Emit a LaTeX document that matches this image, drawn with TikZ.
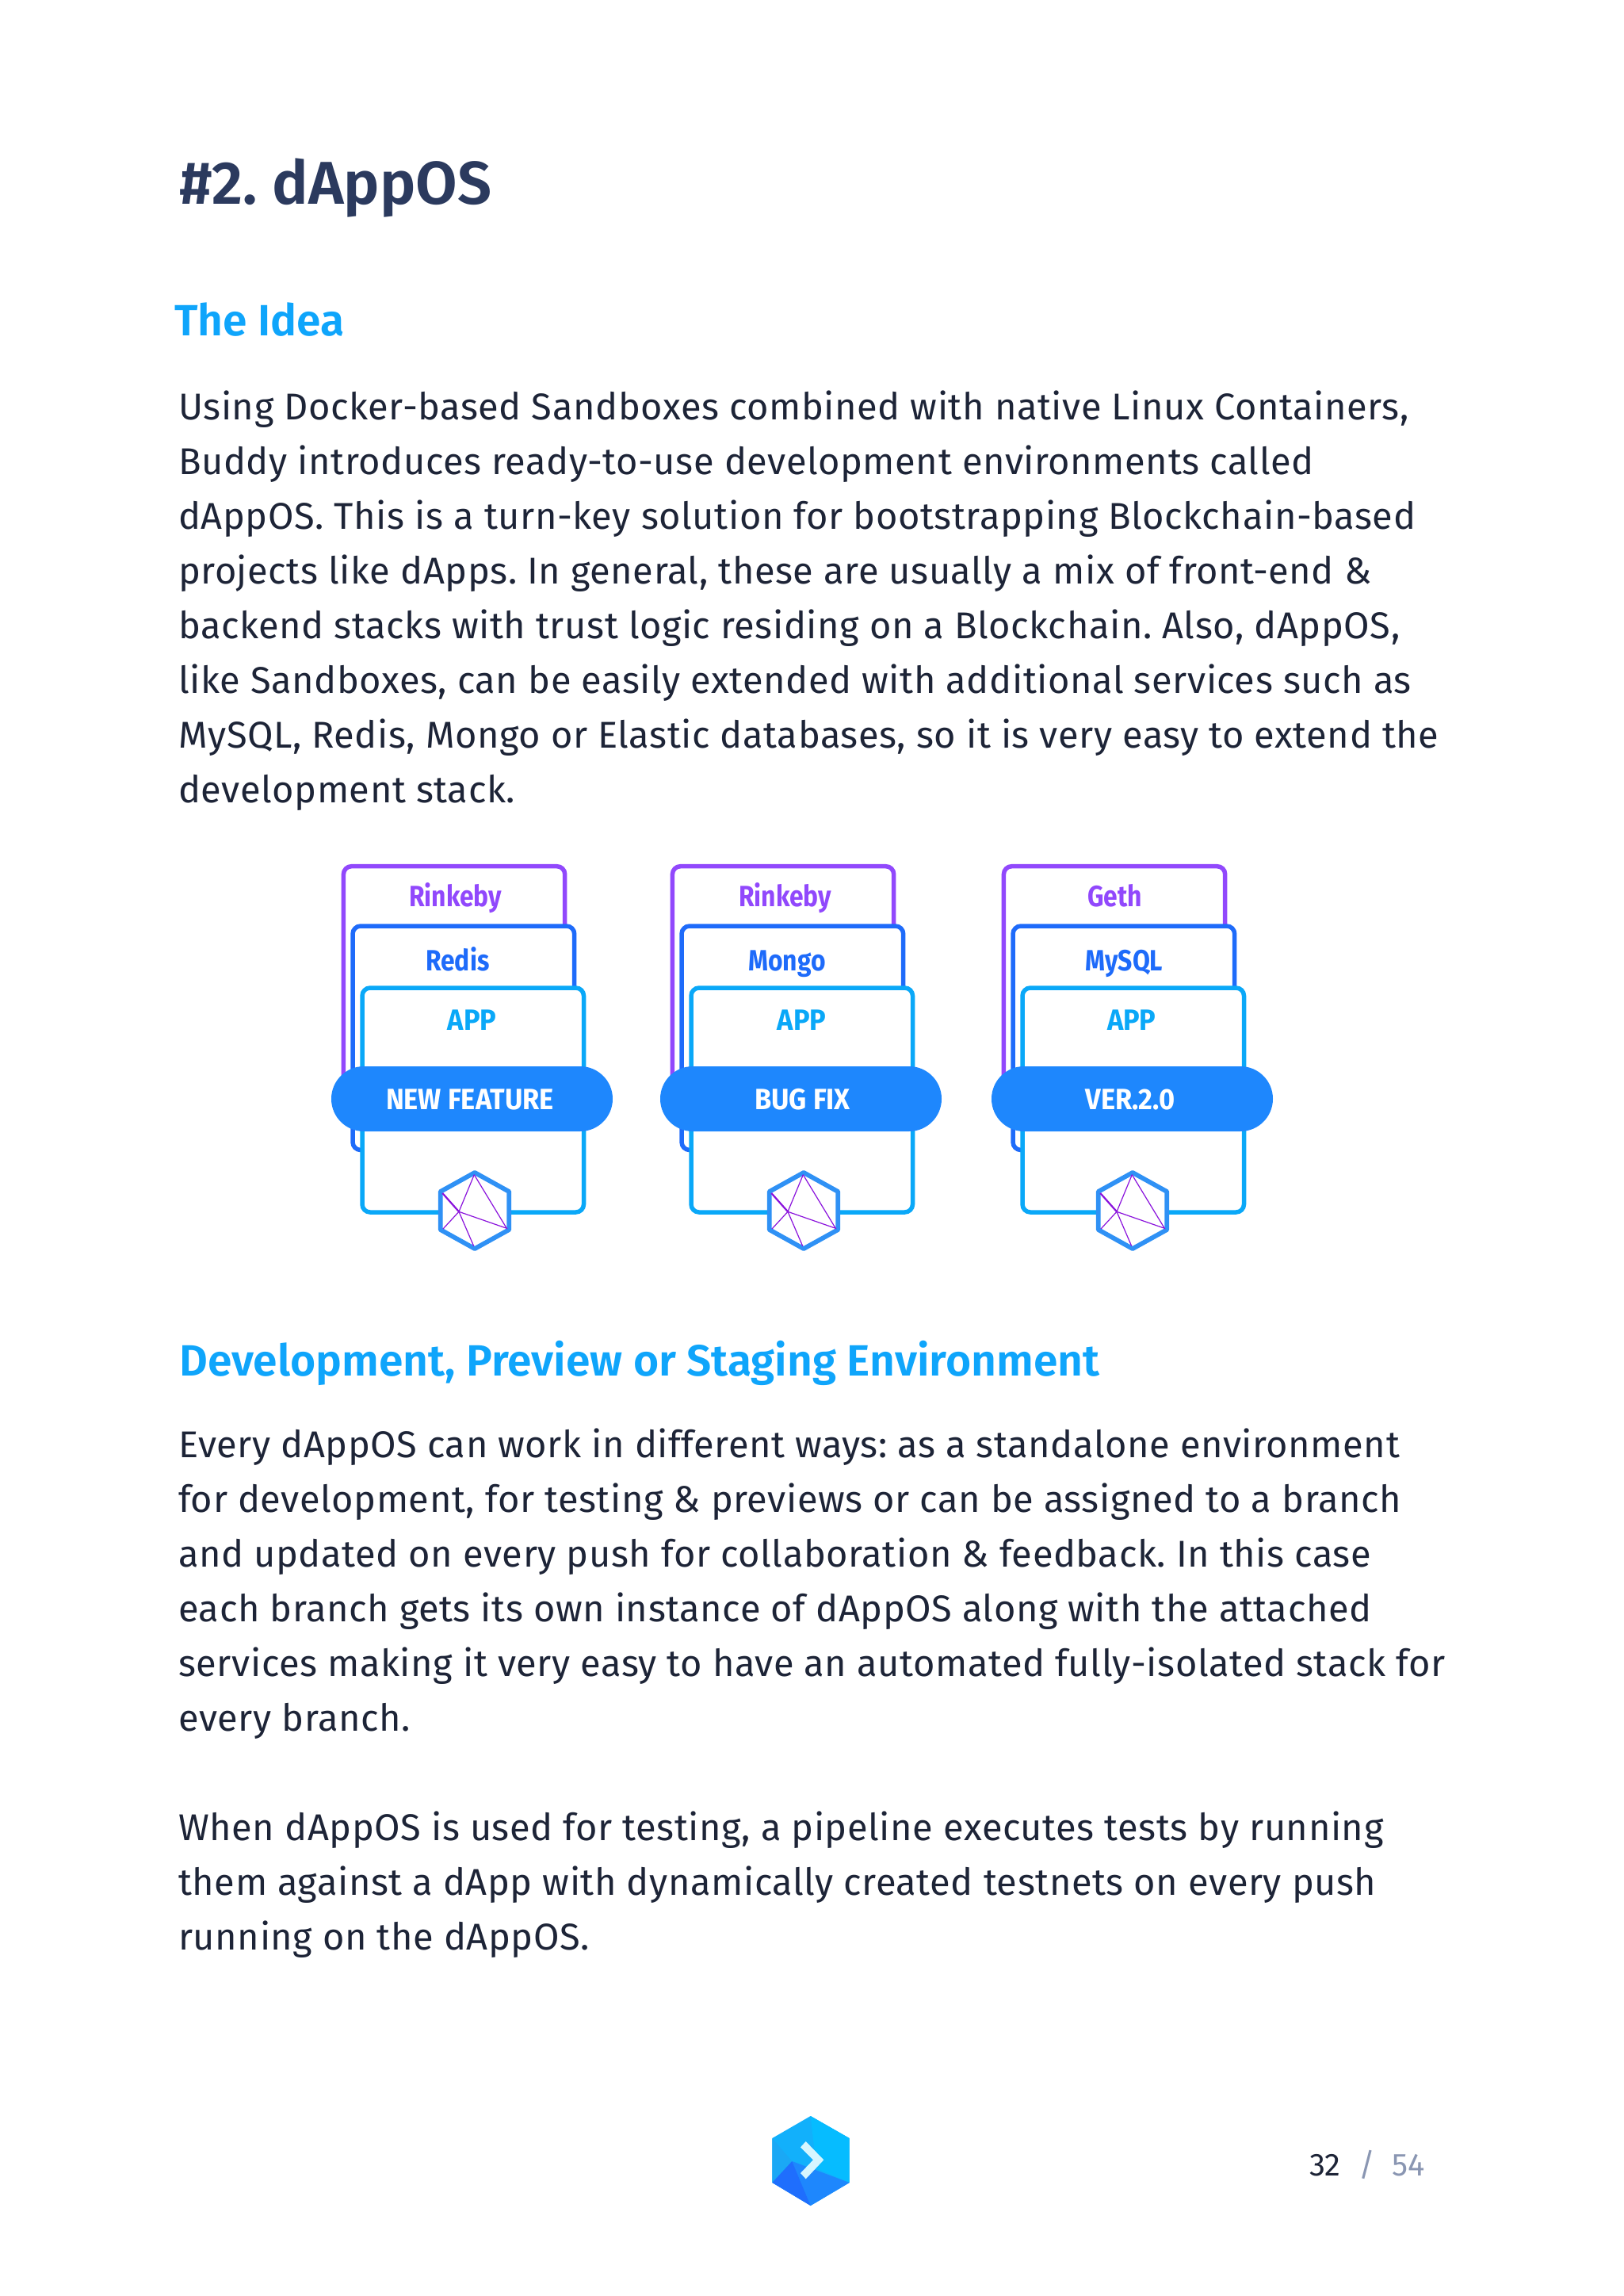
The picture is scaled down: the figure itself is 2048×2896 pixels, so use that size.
\documentclass[tikz,border=0pt]{standalone}
\usepackage{fontspec}
\setmainfont{Fira Sans}
\newfontfamily\bodyf[LetterSpace=1.2]{Fira Sans}
\newfontfamily\headf{Fira Sans}[UprightFont=*-SemiBold]
\newfontfamily\lblf[FakeStretch=0.86,UprightFont=*-Bold]{Fira Sans}
\newfontfamily\capf[FakeStretch=0.93,UprightFont=*-Bold]{Fira Sans}
\definecolor{cTitle}{HTML}{2B3A5E}
\definecolor{cHead}{HTML}{0FA5FB}
\definecolor{cBody}{HTML}{1D2437}
\definecolor{cPurple}{HTML}{9148FC}
\definecolor{cBlue}{HTML}{1E6BFA}
\definecolor{cSky}{HTML}{0AA8F8}
\definecolor{cPill}{HTML}{1E87FD}
\definecolor{cHex}{HTML}{2F91F5}
\definecolor{cNet}{HTML}{8A12DC}
\definecolor{cGrey}{HTML}{8A96B2}
\definecolor{logoA}{HTML}{12B0FB}
\definecolor{logoB}{HTML}{1AA8F5}
\definecolor{logoC}{HTML}{06BCFF}
\definecolor{logoD}{HTML}{1E87FD}
\definecolor{logoE}{HTML}{1F6EFD}
\definecolor{logoF}{HTML}{D6F6FF}
\tikzset{
  bodyline/.style={anchor=base west,inner sep=0pt,text=cBody,font=\bodyf\fontsize{47}{56}\selectfont},
  titletext/.style={anchor=base west,inner sep=0pt,text=cTitle,font=\headf\fontsize{76.2}{90}\selectfont},
  headtext/.style={anchor=base west,inner sep=0pt,text=cHead,font=\headf\fontsize{55.2}{66}\selectfont},
  card/.style={line width=5.5pt,fill=white,rounded corners=10pt},
  lbl/.style={anchor=base,inner sep=0pt,font=\lblf\fontsize{37}{40}\selectfont},
  lblcap/.style={anchor=base,inner sep=0pt,font=\capf\fontsize{37}{40}\selectfont},
  net/.style={draw=cNet,line width=1.2pt},
  pagenum/.style={anchor=base west,inner sep=0pt,font=\fontsize{40}{46}\selectfont}
}
\begin{document}
\frenchspacing
\begin{tikzpicture}[x=1pt,y=-1pt]
\useasboundingbox (0,0) rectangle (2048,2896);
\fill[white] (0,0) rectangle (2048,2896);
\node[titletext] (title) at (226,257) {\#2. dAppOS};
\node[headtext] (h1) at (220,423) {The Idea};
\node[headtext] (h2) at (226,1735) {Development, Preview or Staging Environment};
\foreach \i/\y/\t in {
 a/529/{Using Docker-based Sandboxes combined with native Linux Containers,},
 b/598/{Buddy introduces ready-to-use development environments called},
 c/667/{dAppOS. This is a turn-key solution for bootstrapping Blockchain-based},
 d/736/{projects like dApps. In general, these are usually a mix of front-end \&},
 e/805/{backend stacks with trust logic residing on a Blockchain. Also, dAppOS,},
 f/874/{like Sandboxes, can be easily extended with additional services such as},
 g/943/{MySQL, Redis, Mongo or Elastic databases, so it is very easy to extend the},
 h/1012/{development stack.},
 i/1838/{Every dAppOS can work in different ways: as a standalone environment},
 j/1907/{for development, for testing \& previews or can be assigned to a branch},
 k/1976/{and updated on every push for collaboration \& feedback. In this case},
 l/2045/{each branch gets its own instance of dAppOS along with the attached},
 m/2114/{services making it very easy to have an automated fully-isolated stack for},
 n/2183/{every branch.},
 o/2321/{When dAppOS is used for testing, a pipeline executes tests by running},
 p/2390/{them against a dApp with dynamically created testnets on every push},
 q/2459/{running on the dAppOS.}}
 {\node[bodyline] (line\i) at (225,\y) {\t};}
\foreach \n/\o/\h/\a/\ax/\b/\bx/\c/\cx/\d/\dx in {
 one/0/0/Rinkeby/574.5/Redis/577.3/APP/595.5/NEW FEATURE/593,
 two/415/0/Rinkeby/990.5/Mongo/993/APP/1011.5/BUG FIX/1012.5,
 three/833/-3/Geth/1406.8/MySQL/1418.3/APP/1427.8/VER.2.0/1426}
{
 \begin{scope}[xshift=\o pt]
  \draw[card,draw=cPurple] (433.4,1092.7) rectangle (712.7,1400);
  \draw[card,draw=cBlue] (445,1168) rectangle (724.7,1450.5);
  \draw[card,draw=cSky] (457,1246) rectangle (736.5,1529);
  \fill[cPill,rounded corners=41pt] (418,1345) rectangle (773,1427);
  \begin{scope}[xshift=\h pt]
  \draw[draw=cHex,fill=white,line width=5.8pt,line join=round] (599,1479) -- (642.3,1503) -- (642.3,1551) -- (599,1575) -- (555.7,1551) -- (555.7,1503) -- cycle;
  \coordinate (\n c) at (579,1528.3);
  \draw[net] (598.3,1481.7) -- (\n c);
  \draw[net] (598.3,1481.7) -- (639.3,1549.3) -- (\n c);
  \draw[net] (559,1550) -- (\n c);
  \draw[net] (597.7,1571.7) -- (\n c);
  \draw[net,line width=2.2pt] (558.3,1505) -- (\n c);
  \end{scope}
 \end{scope}
 \node[lbl,text=cPurple] (\n a) at (\ax,1143.3) {\a};
 \node[lbl,text=cBlue] (\n b) at (\bx,1224.3) {\b};
 \node[lblcap,text=cSky] (\n p) at (\cx,1299.3) {\c};
 \node[lblcap,text=white] (\n f) at (\dx,1399.3) {\d};
}
% logo
\fill[logoA] (1022.7,2669) -- (1071.7,2697) -- (1071.7,2753) -- (1022.7,2782) -- (974.3,2753) -- (974.3,2697) -- cycle;
\fill[logoB] (974.3,2697) -- (999.3,2726) -- (974.3,2753) -- cycle;
\fill[logoC] (1022.7,2669) -- (1071.7,2697) -- (1071.7,2753) -- (1030,2735) -- cycle;
\fill[logoD] (999.3,2726) -- (1071.7,2753) -- (1022.7,2782) -- cycle;
\fill[logoE] (974.3,2753) -- (999.3,2726) -- (1022.7,2782) -- cycle;
\fill[logoF] (1010,2708.3) -- (1016.7,2701) -- (1039.3,2724.3) -- (1016.7,2748.3) -- (1010,2741) -- (1026,2724.3) -- cycle;
\node[pagenum,text=cBody] (pg) at (1652,2744) {32};
\node[pagenum,text=cGrey] (sl) at (1714,2744) {/};
\node[pagenum,text=cGrey] (tot) at (1756,2744) {54};
\end{tikzpicture}
\end{document}
